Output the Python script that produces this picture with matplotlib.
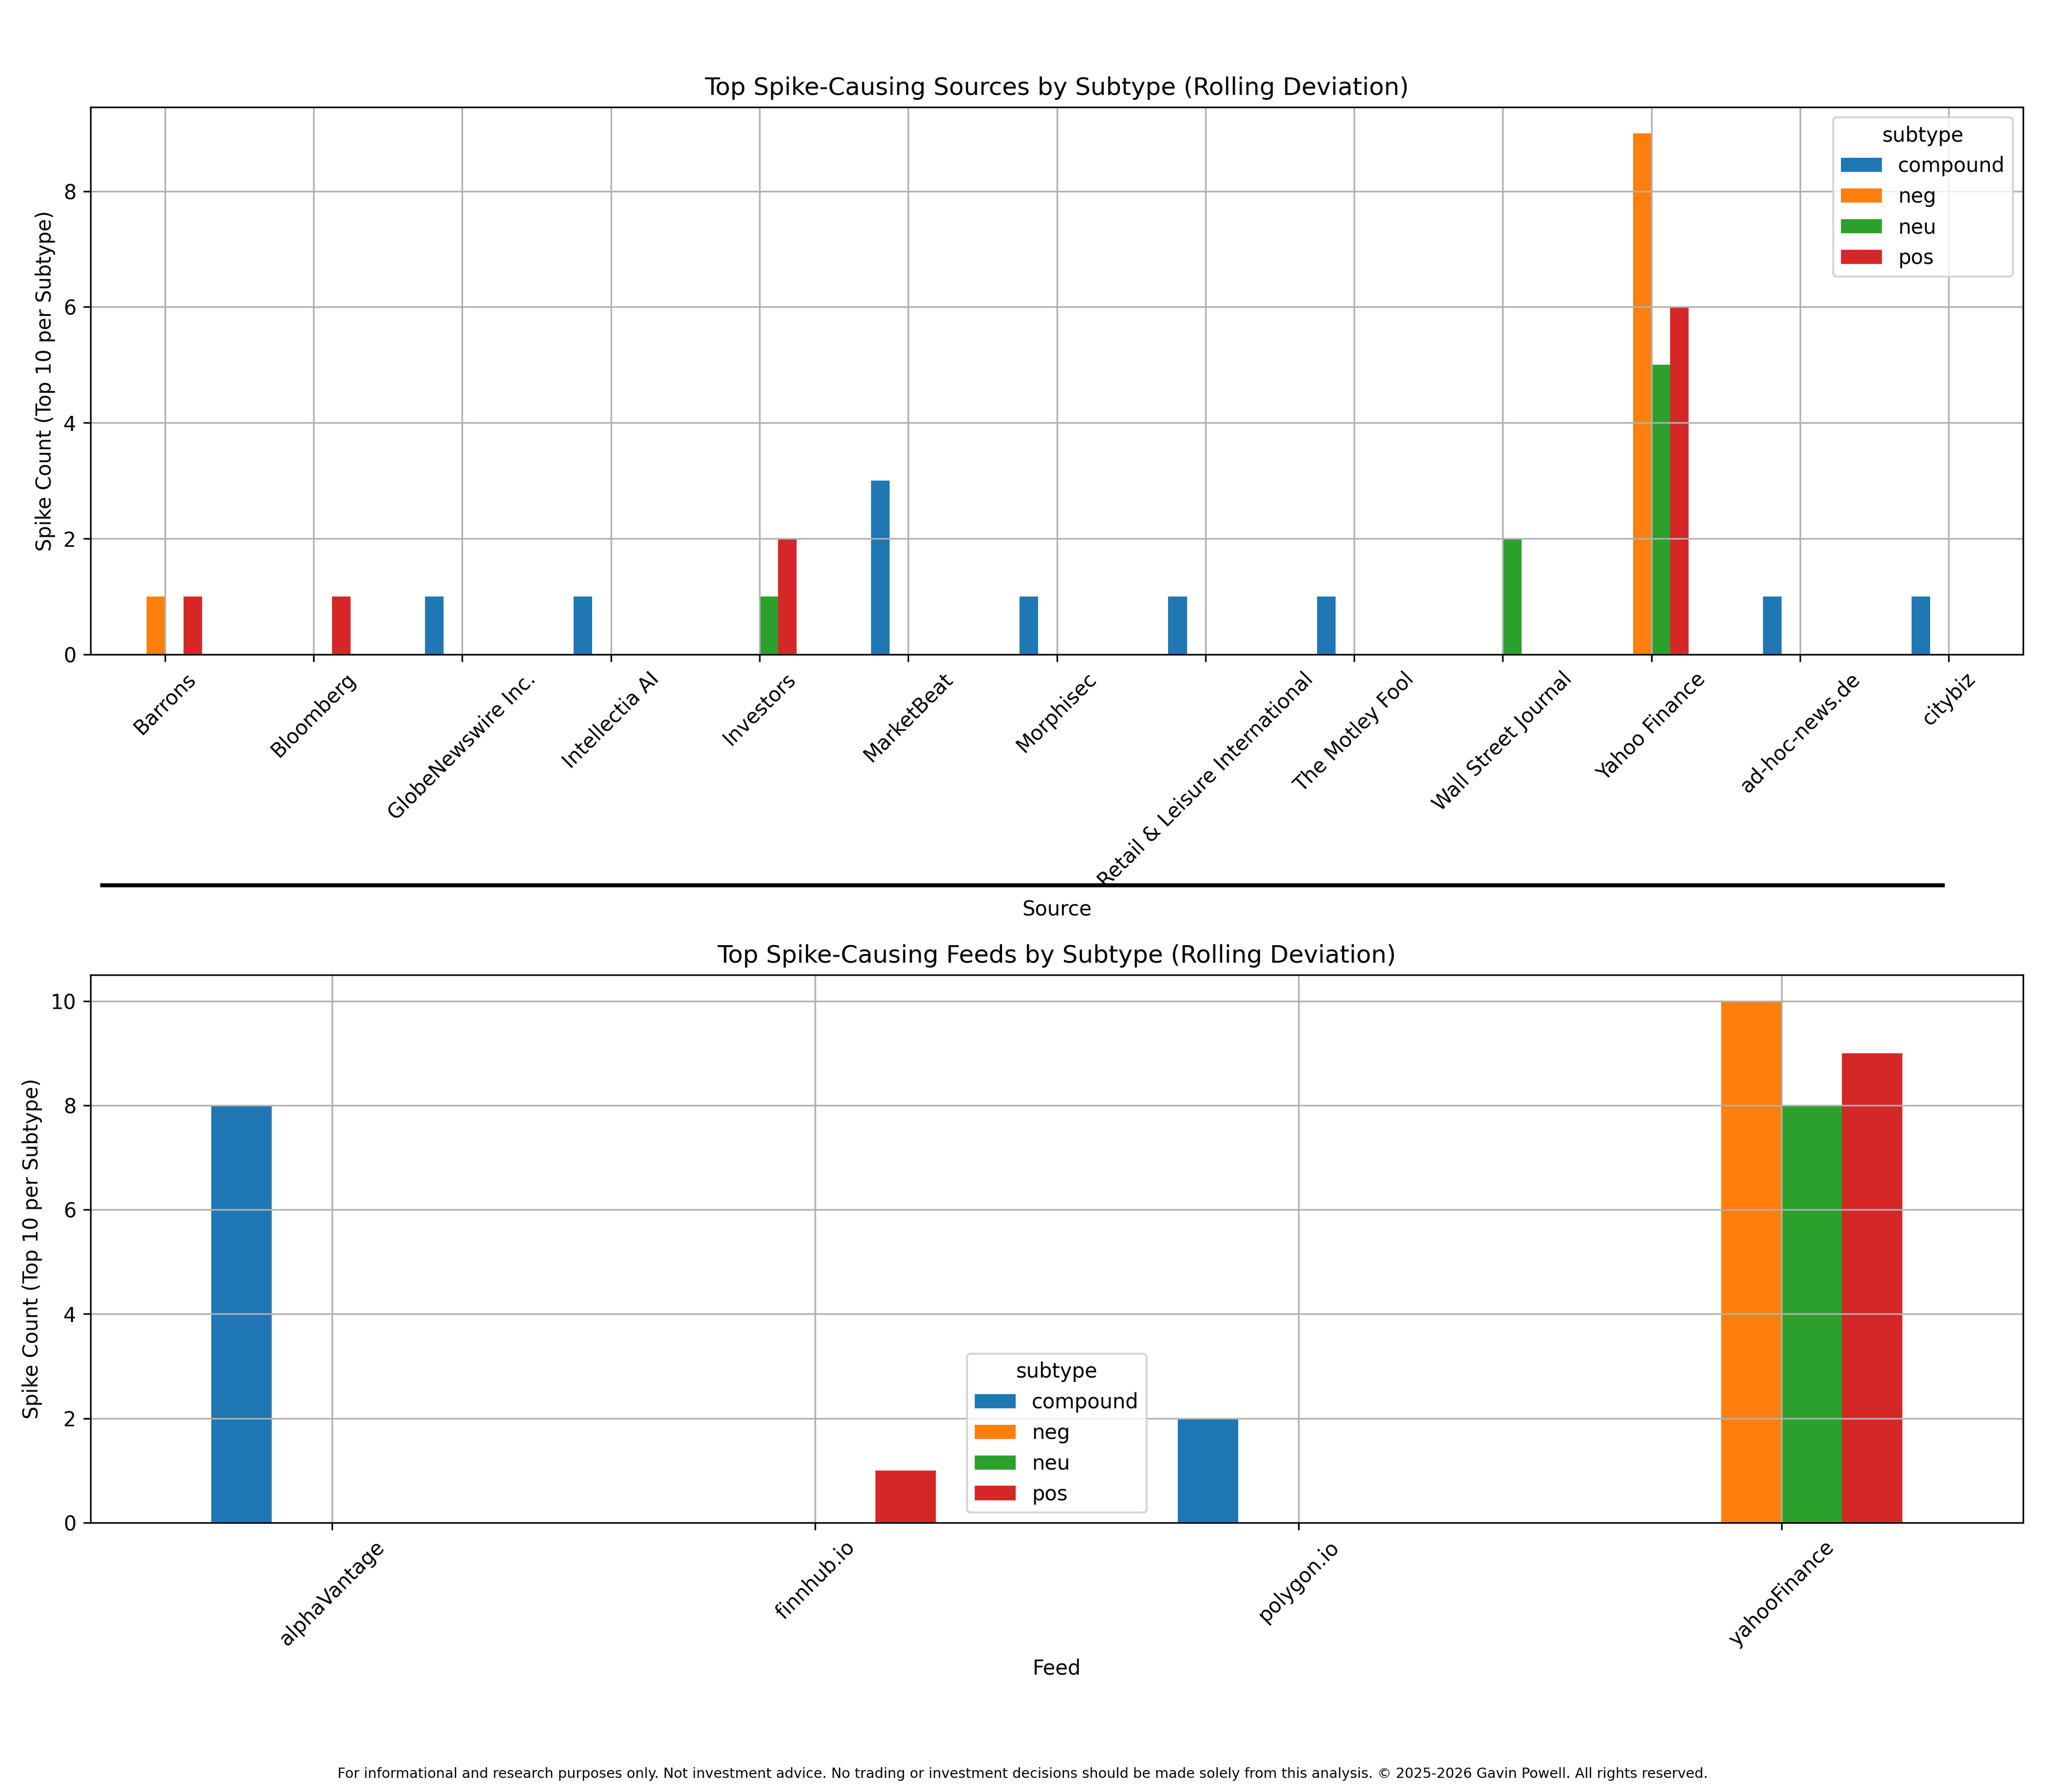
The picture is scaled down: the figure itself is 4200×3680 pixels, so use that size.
import numpy as np
import pandas as pd
import matplotlib
matplotlib.use("Agg")
import matplotlib.pyplot as plt
from matplotlib.lines import Line2D

subtypes = ["compound", "neg", "neu", "pos"]

sources = ["Barrons", "Bloomberg", "GlobeNewswire Inc.", "Intellectia AI", "Investors",
           "MarketBeat", "Morphisec", "Retail & Leisure International", "The Motley Fool",
           "Wall Street Journal", "Yahoo Finance", "ad-hoc-news.de", "citybiz"]
src_compound = [0, 0, 1, 1, 0, 3, 1, 1, 1, 0, 0, 1, 1]
src_neg      = [1, 0, 0, 0, 0, 0, 0, 0, 0, 0, 9, 0, 0]
src_neu      = [0, 0, 0, 0, 1, 0, 0, 0, 0, 2, 5, 0, 0]
src_pos      = [1, 1, 0, 0, 2, 0, 0, 0, 0, 0, 6, 0, 0]

feeds = ["alphaVantage", "finnhub.io", "polygon.io", "yahooFinance"]
feed_compound = [8, 0, 2, 0]
feed_neg      = [0, 0, 0, 10]
feed_neu      = [0, 0, 0, 8]
feed_pos      = [0, 1, 0, 9]

df_src = pd.DataFrame({"compound": src_compound, "neg": src_neg,
                       "neu": src_neu, "pos": src_pos}, index=sources)
df_src.columns.name = "subtype"
df_feed = pd.DataFrame({"compound": feed_compound, "neg": feed_neg,
                        "neu": feed_neu, "pos": feed_pos}, index=feeds)
df_feed.columns.name = "subtype"

fig = plt.figure(figsize=(14, 12.2667), dpi=300)
ax1 = fig.add_axes([0.04429, 0.6348, 0.945, 0.3054])
ax2 = fig.add_axes([0.04429, 0.15027, 0.945, 0.3057])

df_src.plot(kind="bar", ax=ax1, rot=45, grid=True)
ax1.set_title("Top Spike-Causing Sources by Subtype (Rolling Deviation)")
ax1.set_xlabel("Source")
ax1.set_ylabel("Spike Count (Top 10 per Subtype)")
ax1.legend(title="subtype", loc="upper right")

df_feed.plot(kind="bar", ax=ax2, rot=45, grid=True)
ax2.set_title("Top Spike-Causing Feeds by Subtype (Rolling Deviation)")
ax2.set_xlabel("Feed")
ax2.set_ylabel("Spike Count (Top 10 per Subtype)")
ax2.legend(title="subtype", loc="lower center")

fig.add_artist(Line2D([0.05, 0.95], [0.5061, 0.5061], color="black",
                      linewidth=2, transform=fig.transFigure))

fig.text(0.5, 0.0101,
         "For informational and research purposes only. Not investment advice. No trading or investment decisions should be made solely from this analysis. \u00a9 2025-2026 Gavin Powell. All rights reserved.",
         ha="center", va="center", fontsize=6.9)

fig.savefig("out.png", dpi=300)
